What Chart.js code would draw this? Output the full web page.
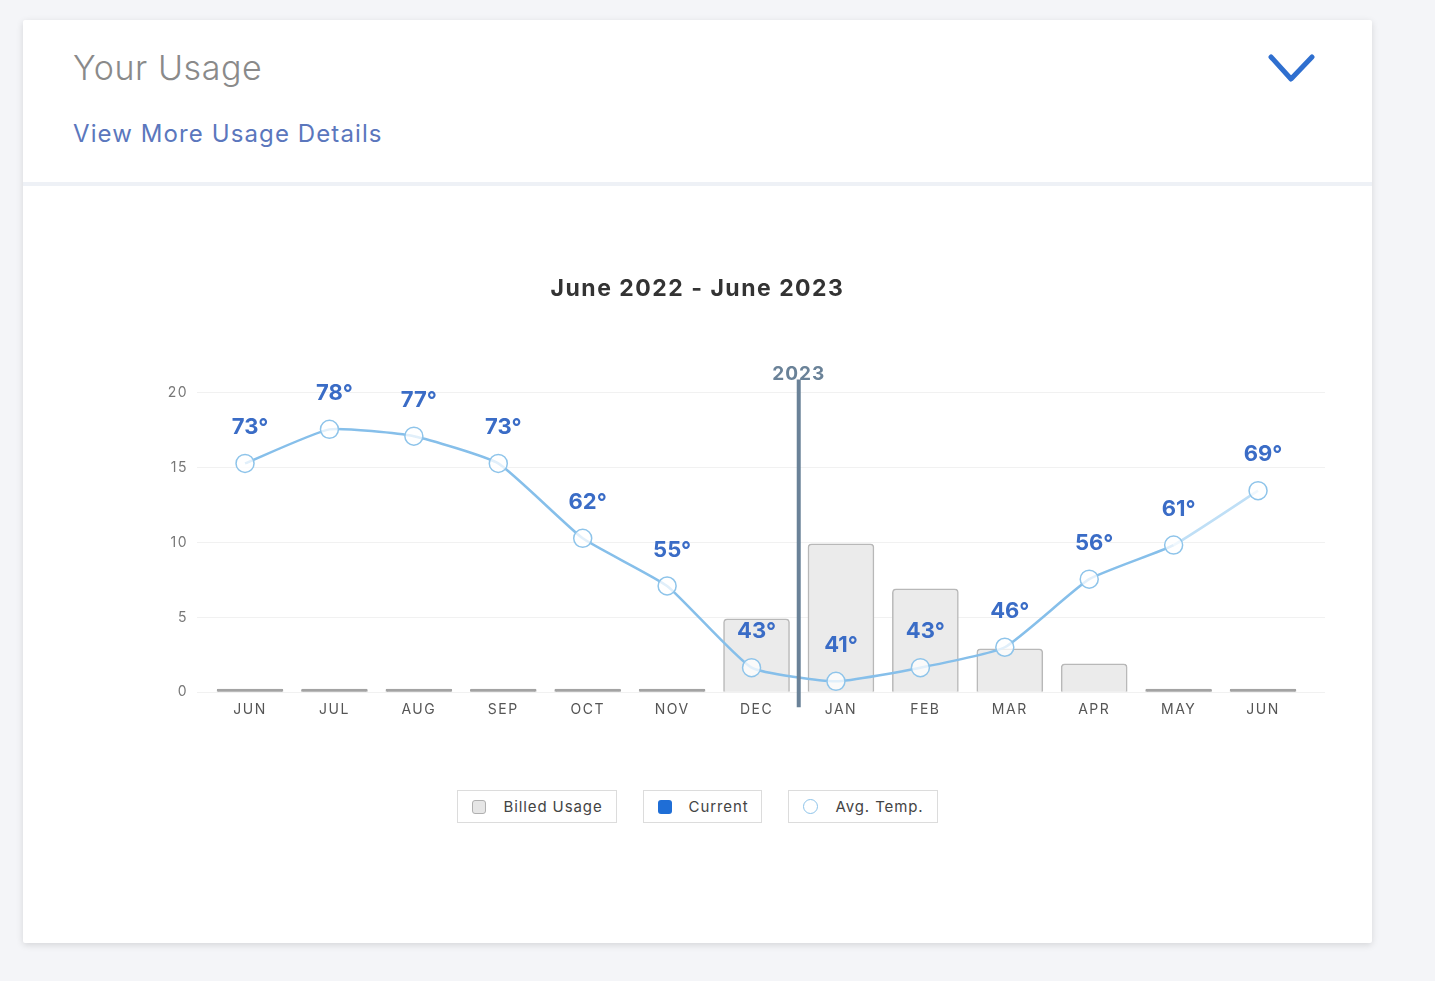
<!DOCTYPE html>
<html>
<head>
<meta charset="utf-8">
<script src="https://cdn.jsdelivr.net/npm/chart.js@4.4.0/dist/chart.umd.min.js"></script>
<style>
  html, body { margin:0; padding:0; }
  body { width:1435px; height:981px; background:#f4f5f8; position:relative; overflow:hidden; font-family:"Inter", "Noto Sans", sans-serif; }
  .card { position:absolute; left:23px; top:20px; width:1349px; height:923px; background:#fff; box-shadow:0 2px 7px rgba(0,0,0,0.13); border-radius:2px; }
  .hdr-title { position:absolute; left:50px; top:27px; font-size:34px; font-weight:300; color:#8a8a8a; letter-spacing:0.6px; }
  .hdr-link { position:absolute; left:50px; top:99px; font-size:24px; font-weight:400; color:#5b77bd; letter-spacing:1.1px; }
  .sep { position:absolute; left:0; top:162px; width:1349px; height:4px; background:#eef1f6; }
  .chev { position:absolute; left:1240px; top:30px; }
  #wrap { position:absolute; left:0; top:170px; width:1349px; height:560px; }
  #legend { position:absolute; top:770px; left:0; width:1349px; display:flex; justify-content:center; gap:26px; }
  .li { border:1px solid #dcdcdc; height:31px; display:flex; align-items:center; padding:0 13px 0 14px; font-size:15px; color:#444; letter-spacing:0.9px; }
  .ico { width:14px; height:14px; margin-right:17px; box-sizing:border-box; }
</style>
</head>
<body>
<div class="card">
  <div class="hdr-title">Your Usage</div>
  <div class="hdr-link">View More Usage Details</div>
  <svg class="chev" width="80" height="60"><polyline points="8,7 28,29 49,7" fill="none" stroke="#2f6fcf" stroke-width="5" stroke-linecap="round" stroke-linejoin="round"/></svg>
  <div class="sep"></div>
  <div id="wrap"><canvas id="c" width="1349" height="560"></canvas></div>
  <div id="legend"></div>
</div>
<script>
// ---- data ----
const months = ['JUN','JUL','AUG','SEP','OCT','NOV','DEC','JAN','FEB','MAR','APR','MAY','JUN'];
const billedUsage = [0, 0, 0, 0, 0, 0, 4.9, 9.9, 6.9, 2.9, 1.9, 0, 0];
const avgTemp = [73, 78, 77, 73, 62, 55, 43, 41, 43, 46, 56, 61, 69];
const yTicks = [0, 5, 10, 15, 20];
const chartTitle = 'June 2022 - June 2023';
const yearMarkLabel = '2023';
const yearMarkAfterIndex = 6;
const legendNames = ['Billed Usage', 'Current', 'Avg. Temp.'];

const barPoints = months.map((m, i) => ({ x: i, y: billedUsage[i] }));
const tempPoints = months.map((m, i) => ({ x: i, y: avgTemp[i] }));

const FONT = '"Inter", "Noto Sans", sans-serif';

const spacingPlugin = {
  id: 'spacing',
  beforeDraw(chart) { chart.ctx.letterSpacing = '1.5px'; },
  beforeDatasetsDraw(chart) { chart.ctx.letterSpacing = '0px'; }
};

const labelPlugin = {
  id: 'tempLabels',
  afterDatasetsDraw(chart) {
    const ctx = chart.ctx;
    const meta = chart.getDatasetMeta(1);
    ctx.save();
    ctx.font = 'bold 22px ' + FONT;
    ctx.fillStyle = '#3a6cc6';
    ctx.textAlign = 'center';
    ctx.textBaseline = 'middle';
    meta.data.forEach((pt, i) => {
      ctx.fillText(avgTemp[i] + '°', pt.x + 5, pt.y - 36);
    });
    // year marker
    const xs = chart.scales.x;
    const x = xs.getPixelForValue(yearMarkAfterIndex + 0.5);
    const top = chart.chartArea.top, bottom = chart.chartArea.bottom;
    ctx.font = 'bold 19px ' + FONT;
    ctx.fillStyle = '#6a8298';
    ctx.letterSpacing = '1px';
    ctx.fillText(yearMarkLabel, x, top - 18);
    ctx.letterSpacing = '0px';
    ctx.strokeStyle = '#6a8298';
    ctx.lineWidth = 4;
    ctx.beginPath();
    ctx.moveTo(x, top - 13);
    ctx.lineTo(x, bottom + 15);
    ctx.stroke();
    ctx.restore();
  }
};

const chart = new Chart(document.getElementById('c'), {
  data: {
    datasets: [
      {
        type: 'bar',
        label: legendNames[0],
        data: barPoints,
        xAxisID: 'x',
        yAxisID: 'y',
        order: 2,
        grouped: false,
        barThickness: 66,
        minBarLength: 3,
        backgroundColor: ctx => (ctx.raw && ctx.raw.y === 0) ? '#a3a3a3' : '#ebebeb',
        borderColor: ctx => (ctx.raw && ctx.raw.y === 0) ? '#a3a3a3' : '#b8b8b8',
        borderWidth: 1.5,
        borderSkipped: 'bottom',
        borderRadius: { topLeft: 4, topRight: 4, bottomLeft: 0, bottomRight: 0 }
      },
      {
        type: 'line',
        label: legendNames[2],
        data: tempPoints,
        xAxisID: 'x2',
        yAxisID: 'y2',
        order: 1,
        borderColor: '#86bfea',
        borderWidth: 2.5,
        tension: 0.15,
        pointRadius: 9,
        pointBorderWidth: 1.5,
        pointBorderColor: '#8ec4ea',
        pointBackgroundColor: 'rgba(255,255,255,0.75)',
        segment: {
          borderColor: c => c.p1DataIndex === months.length - 1 ? '#bfdff6' : '#86bfea'
        }
      }
    ]
  },
  options: {
    responsive: false,
    animation: false,
    devicePixelRatio: 1,
    layout: { padding: { left: 47, right: 47, top: 0, bottom: 23 } },
    plugins: {
      legend: { display: false },
      tooltip: { enabled: false },
      title: {
        display: true,
        text: chartTitle,
        color: '#333',
        font: { family: FONT, size: 23, weight: 'bold', lineHeight: 1.2 },
        padding: { top: 85, bottom: 90 }
      }
    },
    scales: {
      x: {
        type: 'linear',
        position: 'bottom',
        offset: false,
        min: -0.628,
        max: 12.734,
        grid: { display: false, drawTicks: false, offset: false },
        border: { display: false },
        afterBuildTicks: s => { s.ticks = months.map((m, i) => ({ value: i })); },
        ticks: {
          autoSkip: false,
          maxRotation: 0,
          padding: 9,
          color: '#555',
          font: { family: FONT, size: 14 },
          callback: v => months[v]
        }
      },
      x2: {
        type: 'linear',
        display: false,
        offset: false,
        min: -0.569,
        max: 12.793
      },
      y: {
        min: 0,
        max: 20,
        afterBuildTicks: s => { s.ticks = yTicks.map(v => ({ value: v })); },
        afterFit: s => { s.width = 127; },
        grid: { color: '#f1f1f1', drawTicks: false, lineWidth: 1 },
        border: { display: false },
        ticks: { padding: 9, color: '#777', font: { family: FONT, size: 14 } }
      },
      y2: {
        display: false,
        min: 39.4,
        max: 83.4
      }
    }
  },
  plugins: [spacingPlugin, labelPlugin]
});

// HTML legend
const legendStyles = [
  'background:#e6e6e6;border:1.5px solid #b0b0b0;border-radius:3px;',
  'background:#1f6ed6;border-radius:3px;',
  'background:#fff;border:1.5px solid #8ec4ea;border-radius:50%;width:15px;height:15px;'
];
const lg = document.getElementById('legend');
legendNames.forEach((n, i) => {
  const d = document.createElement('div');
  d.className = 'li';
  d.innerHTML = '<span class="ico" style="' + legendStyles[i] + '"></span><span>' + n + '</span>';
  lg.appendChild(d);
});
</script>
</body>
</html>
